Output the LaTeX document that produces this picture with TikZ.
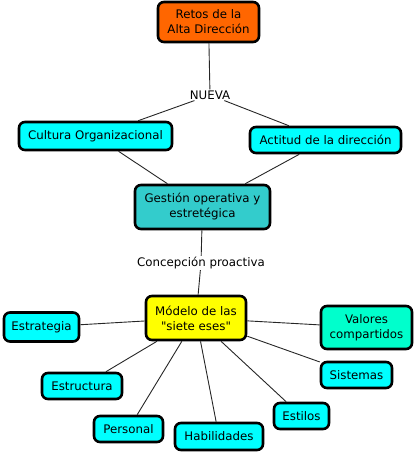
\documentclass[tikz,border=0pt]{standalone}
\usepackage{fontspec}
\setmainfont{DejaVu Sans}[Ligatures=TeXOff]
\definecolor{naranja}{HTML}{FF6600}
\definecolor{celeste}{HTML}{00FFFF}
\definecolor{turquesa}{HTML}{33CCCC}
\definecolor{aguamar}{HTML}{00FFCC}
\definecolor{amarillo}{HTML}{FFFF00}
\tikzset{
	concepto/.style={draw=black, line width=2.6pt, rounded corners=6pt, align=center,
		font=\fontsize{11.8}{15}\selectfont, inner sep=1pt, fill=celeste},
	enlace/.style={font=\fontsize{11.8}{15}\selectfont, inner sep=1pt, fill=white},
	linea/.style={draw=black!85, line width=0.9pt}
}
\begin{document}
\begin{tikzpicture}[x=1pt,y=-1pt]
			\useasboundingbox (0,0) rectangle (415,454);
			% Conceptos de arriba
			\node[concepto, fill=naranja, minimum width=101pt, minimum height=40pt] (retos) at (208.5,22) {Retos de la\\Alta Direcci\'on};
			\node[enlace] (nueva) at (210,95) {NUEVA};
			\node[concepto, minimum width=153pt, minimum height=28pt] (cultura) at (95.5,136) {Cultura Organizacional};
			\node[concepto, minimum width=151pt, minimum height=26pt] (actitud) at (325.5,140) {Actitud de la direcci\'on};
			\node[concepto, fill=turquesa, minimum width=135pt, minimum height=44pt] (gestion) at (202.5,207) {Gesti\'on operativa y\\estret\'egica};
			\node[enlace] (concepcion) at (201,263) {Concepci\'on proactiva};
			\node[concepto, fill=amarillo, minimum width=100pt, minimum height=44pt] (modelo) at (196,318) {M\'odelo de las\\"siete eses"};

			% Las siete eses
			\node[concepto, minimum width=75pt, minimum height=29pt] (estrategia) at (41.5,327) {Estrategia};
			\node[concepto, fill=aguamar, minimum width=91pt, minimum height=43pt] (valores) at (366.5,327.5) {Valores\\compartidos};
			\node[concepto, minimum width=71pt, minimum height=26pt] (sistemas) at (356.5,375) {Sistemas};
			\node[concepto, minimum width=80pt, minimum height=26pt] (estructura) at (82,386) {Estructura};
			\node[concepto, minimum width=55pt, minimum height=26pt] (estilos) at (301.5,416) {Estilos};
			\node[concepto, minimum width=69pt, minimum height=26pt] (personal) at (128.5,429) {Personal};
			\node[concepto, minimum width=88pt, minimum height=27pt] (habilidades) at (219,436.5) {Habilidades};

			% Conexiones
			\draw[linea] (retos) -- (nueva);
			\foreach \c in {cultura,actitud}{
					\draw[linea] (nueva) -- (\c);
					\draw[linea] (\c) -- (gestion);
				}
			\draw[linea] (gestion) -- (concepcion);
			\draw[linea] (concepcion) -- (modelo);
			\foreach \s in {estrategia,valores,sistemas,estructura,estilos,personal,habilidades}{
					\draw[linea] (modelo) -- (\s);
				}
		\end{tikzpicture}
\end{document}
